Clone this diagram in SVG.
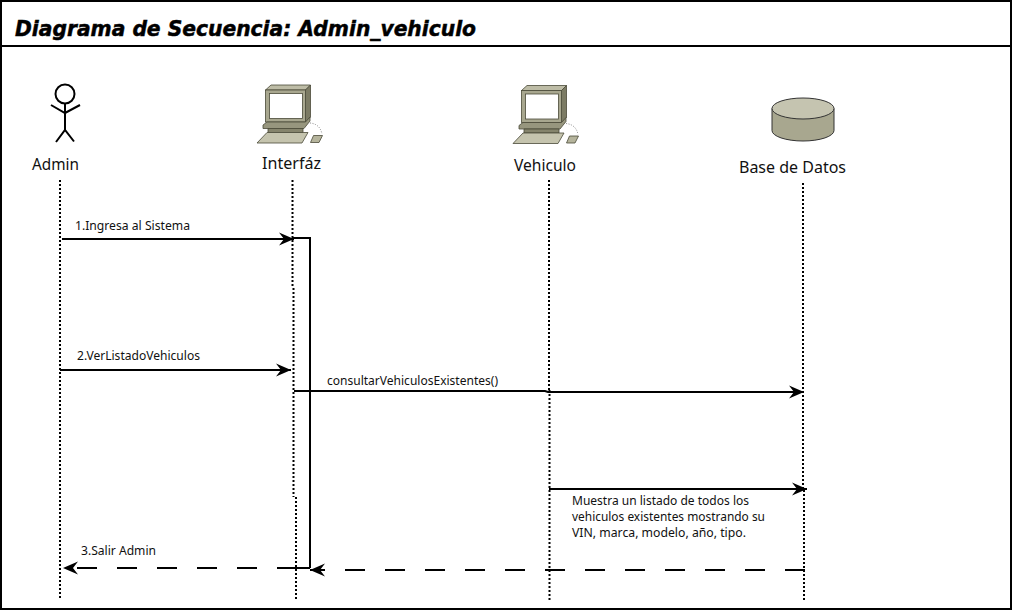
<svg xmlns="http://www.w3.org/2000/svg" width="1014" height="611" viewBox="0 0 1014 611">
<style>
text{font-family:"Noto Sans","DejaVu Sans",sans-serif;fill:#111}
.name{font-size:16px}
.msg{font-size:12px}
.title{font-family:"DejaVu Sans",sans-serif;font-size:22px;font-weight:bold;font-style:italic;fill:#000;stroke:#000;stroke-width:0.500}
.life{fill:none;stroke:#000;stroke-width:2;stroke-dasharray:2 2}
.line{fill:none;stroke:#000;stroke-width:2}
.dash{fill:none;stroke:#000;stroke-width:2;stroke-dasharray:20 20}
.stick{fill:#fff;stroke:#000;stroke-width:2}
.frame{fill:none;stroke:#000;stroke-width:2}
</style>
<defs>
<marker id="head" markerUnits="userSpaceOnUse" markerWidth="16" markerHeight="14" refX="15" refY="7" orient="auto-start-reverse" viewBox="0 0 16 14">
<path d="M0 0.500L15 7L0 13.500L5 7Z" fill="#000"/>
</marker>
<symbol id="pc" overflow="visible" width="1" height="1">
<g stroke="#4a4a38" stroke-width="0.800">
<path d="M265.500 90L271 85H310.500L305.500 90Z" fill="#bdbca6"/>
<path d="M305.500 90L310.500 85V117L305.500 122Z" fill="#7c7b64"/>
<rect x="265.500" y="90" width="40" height="32" fill="#a8a78f"/>
<rect x="269.500" y="93.500" width="33" height="25" fill="#fff"/>
<path d="M267 122H305.500L310 117V121L304 128.500H263V125Z" fill="#97967e"/>
<path d="M268 128.500H303V132.500H268Z" fill="#85846c"/>
<path d="M267 132.500H308L302 143H257Z" fill="#c5c4ae"/>
<path d="M313.500 135.500H322.500L319 142.500H310.500Z" fill="#b5b49c"/>
<path d="M310 123Q320 124 322 134" fill="none" stroke="#666" stroke-dasharray="1 1.500"/>
</g>
</symbol>
</defs>
<rect width="1014" height="611" fill="#fff"/>
<g id="frame">
<path class="frame" d="M1 1H1011V609H1ZM1 46H1011"/>
<text class="title" x="15" y="36" textLength="461" lengthAdjust="spacingAndGlyphs">Diagrama de Secuencia: Admin_vehiculo</text>
</g>
<g id="node-admin">
<circle class="stick" cx="65" cy="94" r="9.500"/>
<path class="line" d="M65 104V130M51 105L65 113L80 105M56 142L65 130L74 141.500"/>
<text class="name" x="32" y="170" textLength="47" lengthAdjust="spacingAndGlyphs">Admin</text>
</g>
<g id="node-interfaz">
<use href="#pc"/>
<text class="name" x="262" y="169" textLength="59" lengthAdjust="spacingAndGlyphs">Interfáz</text>
</g>
<g id="node-vehiculo">
<use href="#pc" x="256" y="0.500"/>
<text class="name" x="514" y="171" textLength="62" lengthAdjust="spacingAndGlyphs">Vehiculo</text>
</g>
<g id="node-bd">
<path d="M772 108.500V130.500A31 10.500 0 0 0 834 130.500V108.500Z" fill="#a8a78f" stroke="#333" stroke-width="1"/>
<ellipse cx="803" cy="108.500" rx="31" ry="10.500" fill="#c5c4b0" stroke="#333" stroke-width="1"/>
<text class="name" x="739" y="173" textLength="107" lengthAdjust="spacingAndGlyphs">Base de Datos</text>
</g>
<g id="connectors">
<path class="life" d="M60 180V598"/>
<path class="life" d="M292.500 180V288M293.500 288V497M296 497V601"/>
<path class="life" d="M549 180V390M549.500 390V601"/>
<path class="life" d="M803 183V490M804 490V601"/>
<path class="line" d="M62 239H294" marker-end="url(#head)"/>
<path class="line" d="M293 238H310V568"/>
<path class="line" d="M60 370H291" marker-end="url(#head)"/>
<path class="line" d="M294 391H545L548 392H804" marker-end="url(#head)"/>
<path class="line" d="M549 489H807" marker-end="url(#head)"/>
<path class="dash" d="M805 570H310" marker-end="url(#head)"/>
<path class="line" d="M310 568H297"/>
<path class="dash" d="M297 568H63" marker-end="url(#head)"/>
</g>
<g id="labels">
<text class="msg" x="75" y="230" textLength="115" lengthAdjust="spacingAndGlyphs">1.Ingresa al Sistema</text>
<text class="msg" x="77" y="360" textLength="123" lengthAdjust="spacingAndGlyphs">2.VerListadoVehiculos</text>
<text class="msg" x="327" y="385" textLength="171" lengthAdjust="spacingAndGlyphs">consultarVehiculosExistentes()</text>
<text class="msg" x="81" y="555" textLength="75" lengthAdjust="spacingAndGlyphs">3.Salir Admin</text>
<text class="msg" x="572" y="505" textLength="177" lengthAdjust="spacingAndGlyphs">Muestra un listado de todos los</text>
<text class="msg" x="572" y="521" textLength="193" lengthAdjust="spacingAndGlyphs">vehiculos existentes mostrando su</text>
<text class="msg" x="572" y="537" textLength="174" lengthAdjust="spacingAndGlyphs">VIN, marca, modelo, año, tipo.</text>
</g>
</svg>
